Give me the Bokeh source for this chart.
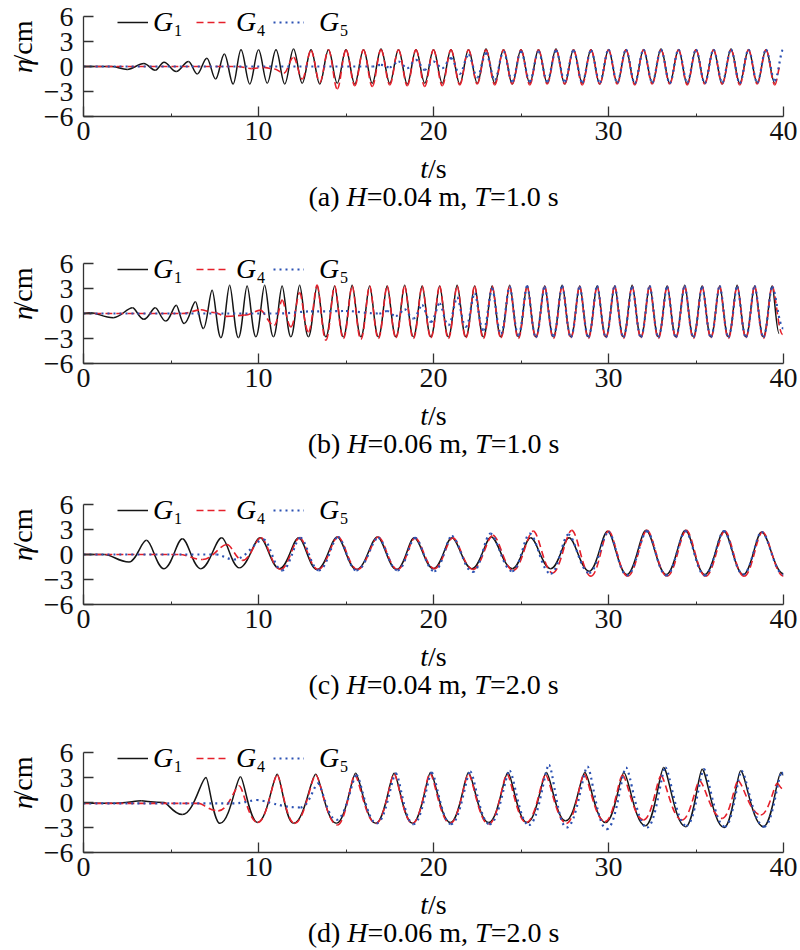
import math
from bokeh.plotting import figure
from bokeh.models import Range1d, FixedTicker, Label, Legend, LegendItem
from bokeh.core.properties import value
from bokeh.layouts import column, row
from bokeh.embed import file_html
from bokeh.resources import INLINE

# ---------------- data (extrema: time [s], eta [cm]) ----------------
# panel (a) H=0.04 m, T=1.0 s
a_g1_t = [0.0, 1.6, 2.5, 3.45, 4.1, 4.6, 5.3, 6.0, 6.5, 7.05, 7.55, 8.05, 8.55, 9.0,
          9.5, 10.0, 10.5, 11.0, 11.5, 12.0, 12.5, 13.0, 13.5, 14.0, 14.5, 15.0, 15.5, 16.0, 16.5, 17.0, 17.5, 18.0, 18.5, 19.0, 19.5, 20.0,
          20.5, 21.0, 21.5, 22.0, 22.5, 23.0, 23.5, 24.0, 24.5, 25.0, 25.5, 26.0, 26.5, 27.0, 27.5, 28.0, 28.5, 29.0, 29.5, 30.0,
          30.5, 31.0, 31.5, 32.0, 32.5, 33.0, 33.5, 34.0, 34.5, 35.0, 35.5, 36.0, 36.5, 37.0, 37.5, 38.0, 38.5, 39.0, 39.5]
a_g1_v = [0.0, 0.0, -0.35, 0.35, -0.45, 0.5, -0.6, 0.6, -0.9, 1.0, -1.5, 1.5, -2.1, 2.0,
          -2.1, 2.0, -2.0, 2.0, -2.1, 2.1, -2.0, 2.0, -2.1, 2.0, -2.0, 2.0, -2.1, 2.0, -2.0, 2.1, -2.0, 2.0, -2.1, 2.0, -2.0, 2.0,
          -2.0, 2.0, -2.1, 2.0, -2.0, 2.1, -2.0, 2.0, -2.1, 2.0, -2.0, 2.0, -2.0, 2.1, -2.1, 2.0, -2.0, 2.0, -2.1, 2.0,
          -2.0, 2.0, -2.1, 2.0, -2.0, 2.1, -2.0, 2.0, -2.1, 2.0, -2.0, 2.0, -2.1, 2.1, -2.0, 2.0, -2.0, 2.0, -2.0]
a_g4_t = [0.0, 8.8, 9.6, 10.3, 10.9, 11.45, 12.0, 12.5, 13.0, 13.5, 14.0, 14.5, 15.0, 15.5, 16.0, 16.5, 17.0, 17.5, 18.0, 18.5, 19.0, 19.5, 20.0,
          20.5, 21.0, 21.5, 22.0, 22.5, 23.0, 23.5, 24.0, 24.5, 25.0, 25.5, 26.0, 26.5, 27.0, 27.5, 28.0, 28.5, 29.0, 29.5, 30.0,
          30.5, 31.0, 31.5, 32.0, 32.5, 33.0, 33.5, 34.0, 34.5, 35.0, 35.5, 36.0, 36.5, 37.0, 37.5, 38.0, 38.5, 39.0, 39.5, 39.85]
a_g4_v = [0.0, 0.0, -0.25, -0.1, -0.3, -0.8, 1.1, -1.5, 1.9, -1.9, 2.0, -2.7, 2.0, -2.3, 2.0, -2.4, 2.0, -2.2, 2.0, -2.3, 2.0, -2.4, 2.0,
          -2.3, 2.0, -2.2, 2.0, -2.1, 2.0, -2.2, 2.0, -2.1, 2.0, -2.2, 2.0, -2.1, 2.0, -2.1, 2.0, -2.2, 2.0, -2.1, 2.0,
          -2.1, 2.0, -2.2, 2.0, -2.1, 2.0, -2.1, 2.0, -2.2, 2.0, -2.1, 2.0, -2.1, 2.0, -2.2, 2.0, -2.1, 2.0, -2.2, 0.3]
a_g5_t = [0.0, 16.5, 17.0, 17.5, 18.0, 18.5, 19.0, 19.5, 20.0,
          20.5, 21.0, 21.5, 22.0, 22.5, 23.0, 23.5, 24.0, 24.5, 25.0, 25.5, 26.0, 26.5, 27.0, 27.5, 28.0, 28.5, 29.0, 29.5, 30.0,
          30.5, 31.0, 31.5, 32.0, 32.5, 33.0, 33.5, 34.0, 34.5, 35.0, 35.5, 36.0, 36.5, 37.0, 37.5, 38.0, 38.5, 39.0, 39.5, 40.0]
a_g5_v = [0.0, 0.0, 0.2, -0.1, 0.6, -0.2, 0.8, -0.4, 0.6,
          -0.2, 1.0, -0.9, 1.4, -1.3, 1.6, -1.6, 1.8, -1.8, 1.8, -1.8, 1.8, -1.8, 1.9, -1.8, 1.9, -1.9, 1.9, -1.9, 2.0,
          -1.9, 2.0, -2.0, 2.0, -1.9, 2.0, -2.0, 2.0, -1.9, 2.0, -2.0, 2.0, -1.9, 2.0, -2.0, 2.0, -1.9, 2.0, -1.7, 2.1]

# panel (b) H=0.06 m, T=1.0 s
b_g1_t = [0.0, 0.4, 1.7, 2.8, 3.45, 4.1, 4.7, 5.3, 5.75, 6.4, 6.85,
          7.35, 7.85, 8.35, 8.85, 9.35, 9.85, 10.35, 10.85, 11.35, 11.85, 12.35, 12.85, 13.35, 13.85, 14.35, 14.85, 15.35, 15.85,
          16.35, 16.85, 17.35, 17.85, 18.35, 18.85, 19.35, 19.85,
          20.35, 20.85, 21.35, 21.85, 22.35, 22.85, 23.35, 23.85, 24.35, 24.85, 25.35, 25.85, 26.35, 26.85, 27.35, 27.85,
          28.35, 28.85, 29.35, 29.85,
          30.35, 30.85, 31.35, 31.85, 32.35, 32.85, 33.35, 33.85, 34.35, 34.85, 35.35, 35.85, 36.35, 36.85, 37.35, 37.85,
          38.35, 38.85, 39.35, 39.75]
b_g1_v = [0.0, 0.1, -0.5, 0.7, -0.7, 0.7, -0.9, 1.0, -1.2, 1.4, -1.8,
          2.8, -2.9, 3.4, -2.9, 3.3, -2.8, 3.4, -2.8, 3.3, -2.8, 3.4, -2.8, 3.3, -2.8, 3.3, -2.8, 3.4, -2.8,
          3.3, -2.8, 3.3, -2.8, 3.4, -2.8, 3.3, -2.8,
          3.3, -2.8, 3.4, -2.8, 3.3, -2.8, 3.3, -2.8, 3.4, -2.8, 3.3, -2.8, 3.3, -2.8, 3.4, -2.8,
          3.3, -2.8, 3.3, -2.8,
          3.3, -2.8, 3.4, -2.8, 3.3, -2.8, 3.3, -2.8, 3.4, -2.8, 3.3, -2.8, 3.3, -2.8, 3.4, -2.8,
          3.3, -2.8, 3.3, -2.4]
b_g4_t = [0.0, 5.6, 6.7, 7.5, 8.2, 9.2, 10.1, 10.9,
          11.35, 11.85, 12.35, 12.85, 13.35, 13.85, 14.35, 14.85, 15.35, 15.85, 16.35, 16.85, 17.35, 17.85, 18.35, 18.85, 19.35, 19.85,
          20.35, 20.85, 21.35, 21.85, 22.35, 22.85, 23.35, 23.85, 24.35, 24.85, 25.35, 25.85, 26.35, 26.85, 27.35, 27.85,
          28.35, 28.85, 29.35, 29.85,
          30.35, 30.85, 31.35, 31.85, 32.35, 32.85, 33.35, 33.85, 34.35, 34.85, 35.35, 35.85, 36.35, 36.85, 37.35, 37.85,
          38.35, 38.85, 39.35, 39.95]
b_g4_v = [0.0, 0.0, 0.45, 0.1, -0.35, -0.2, 0.4, -1.4,
          1.6, -1.6, 2.5, -2.2, 3.4, -3.2, 3.3, -3.0, 3.3, -3.1, 3.3, -3.0, 3.3, -2.9, 3.3, -3.0, 3.3, -2.9,
          3.3, -3.0, 3.3, -2.9, 3.3, -3.0, 3.3, -2.9, 3.3, -3.0, 3.3, -2.9, 3.3, -3.0, 3.3, -2.9,
          3.3, -3.0, 3.3, -2.9,
          3.3, -3.0, 3.3, -2.9, 3.3, -3.0, 3.3, -2.9, 3.3, -3.0, 3.3, -2.9, 3.3, -3.0, 3.3, -2.9,
          3.3, -3.0, 3.3, -2.5]
b_g5_t = [0.0, 11.0, 13.0, 15.0, 16.9, 17.35, 17.85, 18.35, 18.85,
          19.35, 19.85, 20.35, 20.85, 21.35, 21.85, 22.35, 22.85, 23.35, 23.85, 24.35, 24.85, 25.35, 25.85, 26.35, 26.85,
          27.35, 27.85, 28.35, 28.85, 29.35, 29.85,
          30.35, 30.85, 31.35, 31.85, 32.35, 32.85, 33.35, 33.85, 34.35, 34.85, 35.35, 35.85, 36.35, 36.85, 37.35, 37.85,
          38.35, 38.85, 39.35, 40.0]
b_g5_v = [0.0, 0.0, 0.25, 0.3, 0.0, 0.3, -0.3, 0.5, -0.6,
          1.0, -1.0, 1.2, -1.4, 1.9, -1.6, 2.4, -2.0, 3.0, -2.4, 3.2, -2.6, 3.3, -2.8, 3.2, -2.7,
          3.3, -2.8, 3.2, -2.8, 3.3, -2.8,
          3.3, -2.8, 3.2, -2.8, 3.3, -2.8, 3.2, -2.8, 3.3, -2.8, 3.2, -2.8, 3.3, -2.8, 3.2, -2.8,
          3.3, -2.8, 3.2, -1.8]

# panel (c) H=0.04 m, T=2.0 s
c_g1_t = [0.0, 1.2, 2.6, 3.6, 4.6, 5.65, 6.7, 7.9, 8.9, 10.1, 11.2, 12.3, 13.35, 14.5, 15.6, 16.8, 17.9, 18.9, 20.0, 21.05,
          22.2, 23.3, 24.5, 25.55, 26.7, 27.75, 28.9, 29.95, 31.05, 32.15, 33.3, 34.4, 35.5, 36.6, 37.7, 38.75, 40.0]
c_g1_v = [0.0, 0.0, -0.9, 1.7, -1.7, 1.9, -1.7, 2.0, -1.6, 2.0, -1.7, 2.0, -1.8, 2.1, -1.8, 2.1, -1.8, 2.0, -1.7, 2.0,
          -1.7, 2.1, -1.7, 2.0, -1.7, 2.0, -2.0, 2.8, -2.4, 2.9, -2.4, 2.9, -2.4, 2.8, -2.4, 2.7, -2.3]
c_g4_t = [0.0, 5.5, 6.8, 8.2, 9.1, 10.15, 11.25, 12.35, 13.4, 14.55, 15.65, 16.85, 17.95, 18.95, 20.05, 21.1, 22.25, 23.4,
          24.55, 25.7, 26.8, 27.9, 29.0, 30.0, 31.1, 32.2, 33.35, 34.45, 35.55, 36.65, 37.75, 38.8, 40.0]
c_g4_v = [0.0, 0.0, -0.6, 1.2, -0.7, 2.0, -1.8, 2.0, -1.8, 2.1, -1.8, 2.1, -1.8, 2.0, -1.7, 2.0, -1.8, 2.3,
          -1.9, 2.8, -2.2, 2.9, -2.6, 2.8, -2.6, 2.9, -2.6, 2.9, -2.6, 2.8, -2.6, 2.7, -2.6]
c_g5_t = [0.0, 7.6, 8.6, 10.3, 11.35, 12.4, 13.45, 14.55, 15.6, 16.85, 17.95, 18.95, 20.05, 21.05, 22.25, 23.25, 24.5,
          25.5, 26.7, 27.7, 28.9, 30.0, 31.05, 32.2, 33.3, 34.4, 35.5, 36.6, 37.7, 38.75, 40.0]
c_g5_v = [0.0, 0.0, -0.6, 1.8, -1.9, 2.0, -1.9, 2.1, -1.9, 2.0, -1.9, 2.0, -2.0, 2.2, -2.1, 2.5, -2.0,
          2.5, -2.3, 2.4, -2.2, 2.7, -2.5, 2.8, -2.5, 2.8, -2.5, 2.8, -2.4, 2.7, -2.4]

# panel (d) H=0.06 m, T=2.0 s
d_g1_t = [0.0, 1.5, 3.3, 4.6, 5.65, 7.0, 7.8, 8.97, 9.95, 11.07, 12.0, 13.27, 14.45, 15.55, 16.7, 17.75, 18.8, 19.83,
          20.97, 22.0, 23.15, 24.25, 25.35, 26.45, 27.55, 28.65, 29.83, 30.88, 32.1, 33.15, 34.4, 35.35, 36.6, 37.55,
          38.85, 39.85, 40.0]
d_g1_v = [-0.1, -0.1, 0.2, 0.0, -1.45, 3.0, -2.5, 3.1, -2.4, 3.4, -2.5, 3.4, -2.5, 3.5, -2.5, 3.5, -2.5, 3.6,
          -2.4, 3.6, -2.4, 3.6, -2.4, 3.6, -2.2, 3.6, -2.4, 3.6, -2.8, 4.2, -2.9, 4.0, -3.0, 3.8,
          -2.9, 3.6, 3.3]
d_g4_t = [0.0, 6.6, 7.7, 8.9, 9.95, 11.07, 12.05, 13.27, 14.5, 15.5, 16.7, 17.75, 18.8, 19.8, 20.95, 22.0, 23.15,
          24.2, 25.3, 26.4, 27.6, 28.6, 29.8, 30.8, 32.0, 33.0, 34.2, 35.2, 36.5, 37.4, 38.7, 39.65, 40.0]
d_g4_v = [-0.1, -0.1, -1.0, 2.0, -2.4, 3.3, -2.5, 3.3, -2.7, 3.3, -2.5, 3.4, -2.5, 3.5, -2.5, 3.4, -2.6,
          3.4, -2.4, 3.3, -2.5, 3.4, -2.3, 3.3, -2.1, 3.2, -2.1, 2.6, -1.9, 2.6, -1.5, 2.3, 1.6]
d_g5_t = [0.0, 8.5, 9.9, 12.4, 13.4, 14.45, 15.6, 16.75, 17.85, 18.85, 19.9, 21.0, 22.1, 23.2, 24.35, 25.45, 26.6,
          27.6, 28.8, 29.9, 31.0, 32.2, 33.25, 34.45, 35.45, 36.65, 37.6, 38.9, 39.9, 40.0]
d_g5_v = [-0.1, -0.1, 0.3, -0.6, 2.3, -2.1, 3.3, -2.5, 3.5, -2.6, 3.6, -2.6, 3.7, -2.6, 3.8, -2.7, 4.5,
          -3.0, 4.3, -3.2, 4.2, -3.0, 4.2, -2.8, 4.0, -2.9, 3.8, -2.9, 3.6, 3.4]

x_ticks = [0, 10, 20, 30, 40]
x_minor = [5, 15, 25, 35]
y_ticks = [-6, -3, 0, 3, 6]
y_labels = {-6: "\u22126", -3: "\u22123"}
gauge_names = ["1", "4", "5"]
panel_letters = ["a", "b", "c", "d"]
panel_H = ["0.04", "0.06", "0.04", "0.06"]
panel_T = ["1.0", "1.0", "2.0", "2.0"]

# ---------------- styling / layout ----------------
FONT = "Liberation Serif"
COLORS = ["#151515", "#e5202b", "#2c52b3"]
DASHES = ["solid", "7 4", "2 4"]
WIDTHS = [1.5, 1.6, 2.2]
AXIS_COLOR = "#333333"
PX_PER_CM = 100.0 / 12.0
EXTRA_TOP = 14                  # px of frame kept above eta = 6 (room for the legend)
TOP_B, BOT_B, LEFT_B, RIGHT_B = 2, 36, 43, 17
PLOT_W = LEFT_B + 700 + RIGHT_B
PLOT_H = TOP_B + EXTRA_TOP + 100 + BOT_B
YLAB_W = 40
FULL_W = YLAB_W + PLOT_W
CAP_H = [95, 89, 96, 62]        # height of the caption strip below each panel
CAP_MID = 43.5                  # caption vertical centre below the strip top
TS_MID = 15.5                   # "t/s" vertical centre below the strip top

REG = {' ': 250, '(': 333, ')': 333, 'a': 444, 'b': 500, 'c': 444, 'd': 500, '=': 564,
       '.': 250, 'm': 778, ',': 250, 's': 389, '/': 278}
for ch in "0123456789":
    REG[ch] = 500
ITA = {'H': 722, 'T': 556, 't': 278, 'G': 722, '\u03b7': 500}


def tw(s, italic, size):
    tbl = ITA if italic else REG
    return sum(tbl.get(c, 500) for c in s) * size / 1000.0


def rich(p, pieces, ax, ay, size, vertical=False):
    total = sum(tw(s, it, size) for s, it in pieces)
    pos = -total / 2.0
    for s, it in pieces:
        kw = dict(x_units="data", y_units="data", text=s, text_font=FONT,
                  text_font_size=f"{size}px", text_font_style="italic" if it else "normal",
                  text_color="#000000", text_align="left", text_baseline="middle")
        if vertical:
            kw.update(x=ax, y=ay + pos, angle=math.pi / 2)
        else:
            kw.update(x=ax + pos, y=ay)
        p.add_layout(Label(**kw))
        pos += tw(s, it, size)


def text_canvas(w, h):
    c = figure(width=w, height=h, x_range=Range1d(0, w), y_range=Range1d(0, h),
               x_axis_location=None, y_axis_location=None, min_border=0,
               output_backend="svg", toolbar_location=None, title=None)
    c.outline_line_color = None
    c.xgrid.visible = False
    c.ygrid.visible = False
    return c


def draw_series(p, ts, vs, color, dash, width, k_hi, k_lo):
    n = min(len(ts), len(vs))
    x0, x1, y0, y1, cx0, cx1 = [], [], [], [], [], []
    for i in range(n - 1):
        ta, tb, va, vb = ts[i], ts[i + 1], vs[i], vs[i + 1]
        d = tb - ta
        ka = k_hi if va >= vb else k_lo
        kb = k_hi if vb > va else k_lo
        x0.append(ta); x1.append(tb); y0.append(va); y1.append(vb)
        cx0.append(ta + ka * d); cx1.append(tb - kb * d)
    p.bezier(x0=x0, y0=y0, x1=x1, y1=y1, cx0=cx0, cy0=y0, cx1=cx1, cy1=y1,
             line_color=color, line_dash=dash, line_width=width)


panels = [
    [(a_g1_t, a_g1_v), (a_g4_t, a_g4_v), (a_g5_t, a_g5_v)],
    [(b_g1_t, b_g1_v), (b_g4_t, b_g4_v), (b_g5_t, b_g5_v)],
    [(c_g1_t, c_g1_v), (c_g4_t, c_g4_v), (c_g5_t, c_g5_v)],
    [(d_g1_t, d_g1_v), (d_g4_t, d_g4_v), (d_g5_t, d_g5_v)],
]
shape = [(0.36, 0.36), (0.3, 0.42), (0.3, 0.42), (0.2, 0.48)]

legend_x = [34, 113, 190]
legend_standoff = [5, 9, 15]

blocks = []
for idx, series in enumerate(panels):
    k_hi, k_lo = shape[idx]
    p = figure(width=PLOT_W, height=PLOT_H, x_range=Range1d(0, 40),
               y_range=Range1d(-6, 6 + EXTRA_TOP / PX_PER_CM),
               output_backend="svg", toolbar_location=None, title=None,
               min_border_left=LEFT_B, min_border_right=RIGHT_B,
               min_border_top=TOP_B, min_border_bottom=BOT_B)
    p.outline_line_color = None
    p.xgrid.visible = False
    p.ygrid.visible = False

    for ax in (p.xaxis, p.yaxis):
        ax.axis_line_color = AXIS_COLOR
        ax.axis_line_width = 1.3
        ax.major_tick_line_color = AXIS_COLOR
        ax.major_tick_line_width = 1.3
        ax.major_tick_in = 10
        ax.major_tick_out = 0
        ax.major_label_text_font = FONT
        ax.major_label_text_font_size = "28px"
        ax.major_label_text_color = "#111111"
    p.xaxis.ticker = FixedTicker(ticks=x_ticks, minor_ticks=x_minor)
    p.xaxis.minor_tick_in = 3
    p.xaxis.minor_tick_out = 0
    p.xaxis.minor_tick_line_color = AXIS_COLOR
    p.xaxis.major_label_standoff = 5
    p.yaxis.ticker = FixedTicker(ticks=y_ticks)
    p.yaxis.bounds = (-6, 6)
    p.yaxis.minor_tick_line_color = None
    p.yaxis.major_label_standoff = 10
    p.yaxis.major_label_overrides = y_labels

    for si, (ts, vs) in enumerate(series):
        draw_series(p, ts, vs, COLORS[si], DASHES[si], WIDTHS[si], k_hi, k_lo)

    # legend: one entry per gauge, italic G with a subscript number
    for si in range(3):
        r = p.line(x=[float("nan")], y=[float("nan")], line_color=COLORS[si],
                   line_dash=DASHES[si], line_width=WIDTHS[si])
        lg = Legend(items=[LegendItem(label=value("G"), renderers=[r])], location=(legend_x[si], 77.5),
                    orientation="horizontal", glyph_width=31, glyph_height=34, label_height=34, label_width=0,
                    label_standoff=legend_standoff[si], padding=0, margin=0, spacing=0,
                    border_line_color=None, background_fill_alpha=0,
                    label_text_font=FONT, label_text_font_style="italic", label_text_font_size="28px",
                    label_text_color="#000000")
        p.add_layout(lg)
        g_x = legend_x[si] + 31 + legend_standoff[si]
        p.add_layout(Label(x=0, y=6, x_units="data", y_units="data", x_offset=g_x + 20.5, y_offset=-14,
                           text=gauge_names[si], text_font=FONT, text_font_size="16px",
                           text_align="left", text_baseline="middle", text_color="#000000"))

    # y-axis title strip on the left
    ylab = text_canvas(YLAB_W, PLOT_H)
    eta0_from_top = TOP_B + EXTRA_TOP + 50
    rich(ylab, [("\u03b7", True), ("/cm", False)], 22, PLOT_H - eta0_from_top, 28, vertical=True)

    # x-axis title and caption strip below
    cap = text_canvas(FULL_W, CAP_H[idx])
    cx = YLAB_W + LEFT_B + 350
    rich(cap, [("t", True), ("/s", False)], cx, CAP_H[idx] - TS_MID, 28)
    pieces = [("(" + panel_letters[idx] + ") ", False), ("H", True), ("=" + panel_H[idx] + " m, ", False),
              ("T", True), ("=" + panel_T[idx] + " s", False)]
    rich(cap, pieces, cx, CAP_H[idx] - CAP_MID, 28)

    blocks.append(row(ylab, p, spacing=0))
    blocks.append(cap)

layout = column(*blocks, spacing=0)
open("out.html", "w").write(file_html(layout, INLINE))
